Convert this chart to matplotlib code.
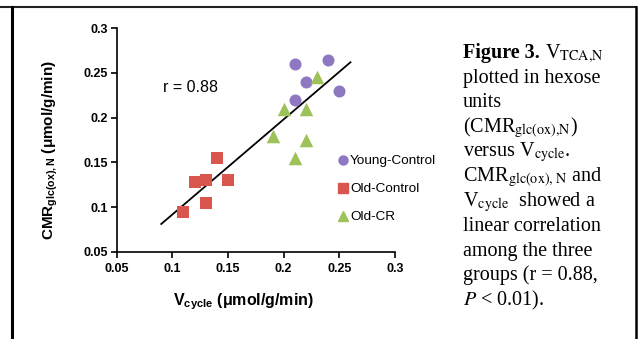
import matplotlib
matplotlib.use("Agg")
import matplotlib.pyplot as plt
from matplotlib.lines import Line2D

plt.rcParams['mathtext.fontset'] = 'custom'
plt.rcParams['mathtext.rm'] = 'Liberation Sans'
plt.rcParams['mathtext.bf'] = 'Liberation Sans:bold'
plt.rcParams['mathtext.it'] = 'Liberation Sans:italic'

# Data
young_x = [0.21, 0.24, 0.22, 0.25, 0.21]
young_y = [0.26, 0.265, 0.24, 0.23, 0.22]
oldc_x = [0.11, 0.12, 0.13, 0.14, 0.15, 0.13]
oldc_y = [0.094, 0.128, 0.130, 0.155, 0.130, 0.105]
oldcr_x = [0.23, 0.20, 0.22, 0.19, 0.22, 0.21]
oldcr_y = [0.245, 0.21, 0.21, 0.18, 0.175, 0.155]
fit_x = [0.09, 0.26]
fit_y = [0.081, 0.262]
ticks = [0.05, 0.1, 0.15, 0.2, 0.25, 0.3]
tick_labels = ['0.05', '0.1', '0.15', '0.2', '0.25', '0.3']
series_names = ['Young-Control', 'Old-Control', 'Old-CR']
colors = ['#8f78c2', '#d9564f', '#9ec25a']

W, H = 639, 339
fig = plt.figure(figsize=(W / 100, H / 100), dpi=100)
ax = fig.add_axes([116.7 / W, 1 - 251.7 / H, (395 - 116.7) / W, (251.7 - 28.3) / H])

ax.plot(fit_x, fit_y, color='black', lw=1.3, zorder=2)
ax.scatter(young_x, young_y, s=75, marker='o', color=colors[0], zorder=3, linewidths=0)
ax.scatter(oldc_x, oldc_y, s=75, marker='s', color=colors[1], zorder=3, linewidths=0)
ax.scatter(oldcr_x, oldcr_y, s=95, marker='^', color=colors[2], zorder=3, linewidths=0)

ax.set_xlim(0.05, 0.3)
ax.set_ylim(0.05, 0.3)
ax.set_xticks(ticks)
ax.set_xticklabels(tick_labels)
ax.set_yticks(ticks)
ax.set_yticklabels(tick_labels)
for s in ['top', 'right']:
    ax.spines[s].set_visible(False)
for s in ['left', 'bottom']:
    ax.spines[s].set_linewidth(1.2)
ax.tick_params(direction='out', length=4, width=1.2, labelsize=9)
ax.tick_params(axis='x', pad=4)
ax.tick_params(axis='y', pad=2)
for lab in ax.get_xticklabels() + ax.get_yticklabels():
    lab.set_fontweight('bold')
    lab.set_family('Liberation Sans')

ax.set_xlabel(r'V$_{\mathbf{cycle}}$ (μmol/g/min)', fontsize=11.5, fontweight='bold',
              family='Liberation Sans')
ax.set_ylabel(r'CMR$_{\mathbf{glc(ox),N}}$ (μmol/g/min)', fontsize=11, fontweight='bold',
              family='Liberation Sans')
ax.xaxis.set_label_coords(0.457, -0.176)
ax.yaxis.set_label_coords(-0.203, 0.455)

ax.text(0.0915, 0.234, 'r = 0.88', fontsize=11.5, family='Liberation Sans', va='center')

handles = [Line2D([], [], ls='', marker='o', color=colors[0], markersize=6.5),
           Line2D([], [], ls='', marker='s', color=colors[1], markersize=6.5),
           Line2D([], [], ls='', marker='^', color=colors[2], markersize=7)]
leg = ax.legend(handles, series_names, loc='center left', bbox_to_anchor=(0.795, 0.28),
                frameon=False, prop={'family': 'Liberation Sans', 'size': 9.7},
                handlelength=0.7, handletextpad=0.2, labelspacing=1.15, borderpad=0,
                borderaxespad=0)

# Caption
cap_lines = [
    r'V$_{\mathrm{TCA{,}N}}$',
    'plotted in hexose',
    'units',
    r'(CMR$_{\mathrm{glc(ox){,}N}}$)',
    r'versus V$_{\mathrm{cycle}}$.',
    r'CMR$_{\mathrm{glc(ox){,}\ N}}$ and',
    r'V$_{\mathrm{cycle}}$  showed a',
    'linear correlation',
    'among the three',
    'groups (r = 0.88,',
    r'$P$ < 0.01).',
]
cap_fs = 14.5
y0 = 58
x0 = 463
renderer = fig.canvas.get_renderer()
head = fig.text(x0 / W, 1 - y0 / H, 'Figure 3.', fontsize=cap_fs, fontweight='bold',
                family='Liberation Serif', va='baseline', ha='left')
head_w = head.get_window_extent(renderer).width
for i, line in enumerate(cap_lines):
    x = x0 + (head_w + 5 if i == 0 else 0)
    fig.text(x / W, 1 - (y0 + 24.7 * i) / H, line, fontsize=cap_fs,
             family='Liberation Serif', math_fontfamily='stix', va='baseline', ha='left')

# Frame lines
fig.add_artist(Line2D([0, 636 / W], [1 - 6.5 / H, 1 - 6.5 / H], color='#222222', lw=1.5,
                      transform=fig.transFigure))
fig.add_artist(Line2D([12 / W, 12 / W], [0, 1 - 6.5 / H], color='black', lw=2.2,
                      transform=fig.transFigure))
fig.add_artist(Line2D([636 / W, 636 / W], [0, 1 - 6.5 / H], color='black', lw=1.8,
                      transform=fig.transFigure))

fig.savefig('out.png', dpi=100)
